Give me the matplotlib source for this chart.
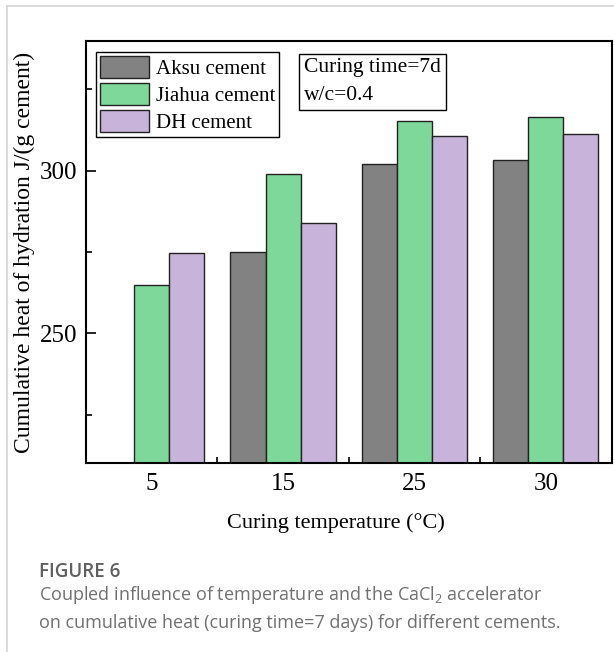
import matplotlib
matplotlib.use("Agg")
import matplotlib.pyplot as plt
from matplotlib.ticker import FixedLocator
from matplotlib.lines import Line2D
import numpy as np

# data
temps = ["5", "15", "25", "30"]
aksu = [np.nan, 275.1, 302.2, 303.3]
jiahua = [264.9, 299.0, 315.2, 316.5]
dh = [274.7, 283.8, 310.8, 311.2]
series_names = ["Aksu cement", "Jiahua cement", "DH cement"]
series_colors = ["#828282", "#7ED89A", "#C8B4DA"]

plt.rcParams["font.family"] = ["Liberation Serif", "DejaVu Serif"]
plt.rcParams["mathtext.default"] = "regular"

fig = plt.figure(figsize=(6.14, 6.52), dpi=100)
ax = fig.add_axes([86 / 614, 1 - 463.3 / 652, 525.5 / 614, 422.6 / 652])

x = np.arange(len(temps))
w = 0.267
for i, (vals, name, col) in enumerate(zip([aksu, jiahua, dh], series_names, series_colors)):
    ax.bar(x + (i - 1) * w, vals, width=w, color=col, edgecolor="#222222",
           linewidth=1.0, label=name, zorder=2)

ax.set_xlim(-0.5, 3.5)
ax.set_ylim(210, 340)
ax.set_xticks(x)
ax.set_xticklabels(temps)
ax.xaxis.set_minor_locator(FixedLocator([0.5, 1.5, 2.5]))
ax.yaxis.set_major_locator(FixedLocator([250, 300]))
ax.yaxis.set_minor_locator(FixedLocator([225, 275, 325]))
ax.tick_params(which="both", direction="in", labelsize=18, width=1.2)
ax.tick_params(which="major", length=7)
ax.tick_params(which="minor", length=4)
ax.tick_params(axis="x", pad=7)
ax.tick_params(axis="y", pad=6)
for s in ax.spines.values():
    s.set_linewidth(1.5)

ax.set_xlabel("Curing temperature (\u00b0C)", fontsize=16)
ax.xaxis.set_label_coords(0.476, -0.117)
ax.set_ylabel("Cumulative heat of hydration J/(g cement)", fontsize=17, labelpad=4)

leg = ax.legend(loc="upper left", bbox_to_anchor=(0.019, 0.9726), borderaxespad=0,
                fontsize=15, frameon=True, fancybox=False, framealpha=1,
                edgecolor="black", borderpad=0.2, handlelength=2.35,
                handleheight=1.2, handletextpad=0.32, labelspacing=0.2)
leg.get_frame().set_linewidth(1.0)

ax.text(0.415, 0.958, "Curing time=7d\nw/c=0.4", transform=ax.transAxes,
        fontsize=15.5, va="top", ha="left", linespacing=1.6,
        bbox=dict(boxstyle="square,pad=0.22", fc="white", ec="black", lw=1.0))

# caption
cap_font = ["Open Sans", "DejaVu Sans"]
fig.text(39 / 614, 1 - 577 / 652, "FIGURE 6", family=cap_font, fontsize=13.5,
         fontweight="semibold", color="#5f5f5f", va="baseline")
fig.text(39 / 614, 1 - 600 / 652,
         "Coupled influence of temperature and the CaCl$_\\mathregular{2}$ accelerator",
         family=cap_font, fontsize=13, color="#707070", va="baseline")
fig.text(39 / 614, 1 - 628 / 652,
         "on cumulative heat (curing time=7 days) for different cements.",
         family=cap_font, fontsize=13, color="#707070", va="baseline")

# light frame of the figure panel
fig.add_artist(Line2D([7.3 / 614, 7.3 / 614], [0, 1 - 5.7 / 652], color="#d4d4d4", lw=1.2))
fig.add_artist(Line2D([7.3 / 614, 1], [1 - 5.7 / 652, 1 - 5.7 / 652], color="#d4d4d4", lw=1.2))

fig.savefig("out.png", dpi=100)
